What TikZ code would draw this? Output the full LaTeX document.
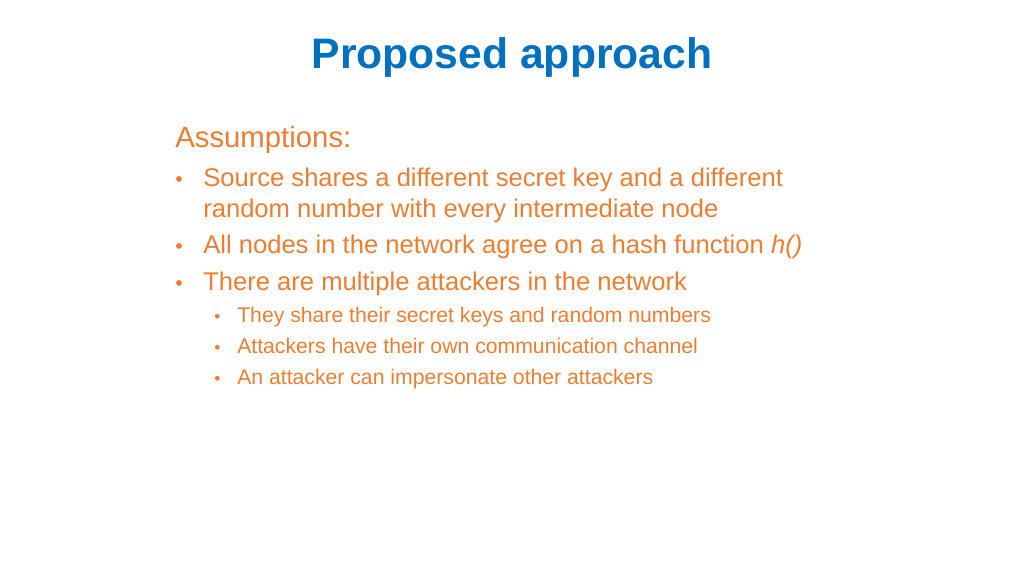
\documentclass[tikz,border=0pt]{standalone}
\usepackage{fontspec}
\setmainfont{Liberation Sans}
\definecolor{tblue}{HTML}{0070C0}
\definecolor{torange}{HTML}{ED7D31}
\begin{document}
\begin{tikzpicture}[x=0.75pt,y=-0.75pt,
  txt/.style={anchor=base west,inner sep=0pt,text=torange,font=\fontsize{19.2}{22}\selectfont},
  sub/.style={anchor=base west,inner sep=0pt,text=torange,font=\fontsize{15.9}{18}\selectfont}]
\useasboundingbox (0,0) rectangle (1024,576);
\node[anchor=base,inner sep=0pt,text=tblue,font=\fontsize{32}{36}\selectfont\bfseries] (title) at (512,68) {Proposed approach};
\node[txt,font=\fontsize{22}{26}\selectfont] (ass) at (175,147) {Assumptions:};
\node[txt,font=\fontsize{16}{20}\selectfont] (b1d) at (175,186) {•};
\node[txt] (b1) at (203,186) {Source shares a different secret key and a different};
\node[txt] (b1b) at (203,217) {random number with every intermediate node};
\node[txt,font=\fontsize{16}{20}\selectfont] (b2d) at (175,253) {•};
\node[txt] (b2) at (203,253) {All nodes in the network agree on a hash function \textit{h()}};
\node[txt,font=\fontsize{16}{20}\selectfont] (b3d) at (175,290) {•};
\node[txt] (b3) at (203,290) {There are multiple attackers in the network};
\node[sub,font=\fontsize{13}{16}\selectfont] (s1d) at (214,322) {•};
\node[sub] (s1) at (237,322) {They share their secret keys and random numbers};
\node[sub,font=\fontsize{13}{16}\selectfont] (s2d) at (214,353) {•};
\node[sub] (s2) at (237,353) {Attackers have their own communication channel};
\node[sub,font=\fontsize{13}{16}\selectfont] (s3d) at (214,384) {•};
\node[sub] (s3) at (237,384) {An attacker can impersonate other attackers};
\end{tikzpicture}
\end{document}
